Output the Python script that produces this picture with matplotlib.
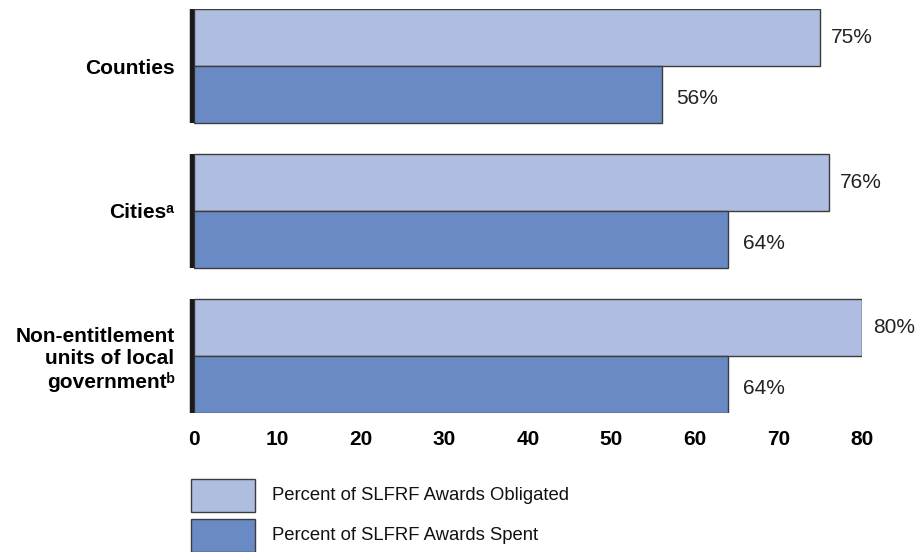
import numpy as np
import matplotlib
matplotlib.use("Agg")
import matplotlib.pyplot as plt
from matplotlib.patches import Rectangle

plt.rcParams['font.family'] = ['Liberation Sans', 'DejaVu Sans']

# data
groups = ['Counties', 'Cities\u1d43',
          'Non-entitlement\nunits of local\ngovernment\u1d47']
obligated = [75, 76, 80]
spent = [56, 64, 64]
series_names = ['Percent of SLFRF Awards Obligated', 'Percent of SLFRF Awards Spent']
col_light = '#AFBDE0'
col_dark = '#6A8AC6'
edge = '#3C3C3C'

fig = plt.figure(figsize=(9.24, 5.52), dpi=100)
ax = fig.add_axes([194/924, 1 - 413/552, (862 - 194)/924, 404/552])

y = np.arange(len(groups))
h = 57/145
ax.barh(y - h/2, obligated, height=h, color=col_light, edgecolor=edge, linewidth=1)
ax.barh(y + h/2, spent, height=h, color=col_dark, edgecolor=edge, linewidth=1)

# thick black bar at the left of each group
for yi in y:
    ax.plot([-0.28, -0.28], [yi - h, yi + h], color='#1a1a1a', lw=3.2,
            solid_capstyle='butt', clip_on=False)

for yi, v in zip(y, obligated):
    ax.text(v + 1.3, yi - h/2, f'{v}%', va='center', ha='left', fontsize=15, color='#222222')
for yi, v in zip(y, spent):
    ax.text(v + 1.8, yi + h/2 + 0.03, f'{v}%', va='center', ha='left', fontsize=15, color='#222222')

ax.set_xlim(0, 80)
ax.set_ylim(len(groups) - 1 + h, -h)
ax.set_yticks(y)
ax.set_yticklabels(groups, fontsize=15, fontweight='bold', linespacing=1.2)
ax.set_xticks(np.arange(0, 81, 10))
ax.tick_params(axis='x', length=0, pad=12, labelsize=15)
ax.tick_params(axis='y', length=0, pad=14)
for lab in ax.get_xticklabels():
    lab.set_fontweight('bold')
for s in ax.spines.values():
    s.set_visible(False)

# legend
for i, (name, c) in enumerate(zip(series_names, [col_light, col_dark])):
    top = 479 + i*40
    fig.patches.append(Rectangle((191/924, 1 - (top + 33)/552), 64/924, 33/552,
                                 transform=fig.transFigure, facecolor=c,
                                 edgecolor=edge, linewidth=1))
    fig.text(272/924, 1 - (top + 16.5)/552, name, va='center', ha='left',
             fontsize=13.3, color='#111111')

fig.savefig('out.png', dpi=100)
